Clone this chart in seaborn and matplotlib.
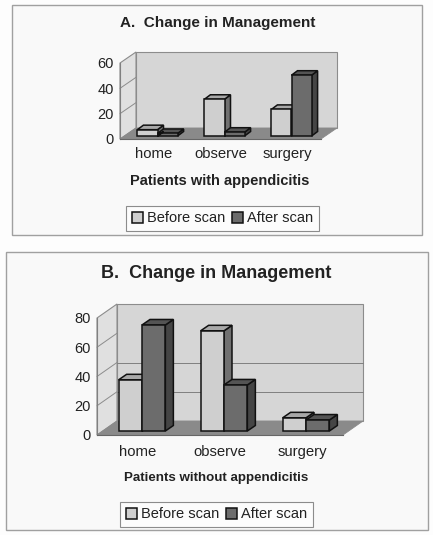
#!/usr/bin/env python3
"""Two Excel style pseudo-3D bar panels, before and after scan."""

import matplotlib.pyplot as plt
from matplotlib.patches import Polygon, Rectangle
import pandas as pd
import seaborn as sns

CATEGORIES = ["home", "observe", "surgery"]
SERIES = ["Before scan", "After scan"]

A_BEFORE = [5, 29, 21]
A_AFTER = [2, 3, 48]
A_TICKS = [0, 20, 40, 60]

B_BEFORE = [35, 68.5, 9]
B_AFTER = [72.5, 31.5, 7.5]
B_TICKS = [0, 20, 40, 60, 80]

W, H = 433, 535
FRONT_COLOR = {"Before scan": "#cfcfcf", "After scan": "#6c6c6c"}
TOP_COLOR = {"Before scan": "#a8a8a8", "After scan": "#545454"}
SIDE_COLOR = {"Before scan": "#707070", "After scan": "#454545"}
BAR_EDGE = "#111111"
BAR_LW = 1.1


def px_axes(fig, left, top, right, bottom):
    """Add axes placed with pixel coordinates, measured from the top left."""
    return fig.add_axes(
        [left / W, 1 - bottom / H, (right - left) / W, (bottom - top) / H]
    )


def draw_box(ax, ymax, ticks, grid, ddx, ddy):
    """Back wall, left wall and floor, all in the data units of ax."""
    x0, x1 = -0.5, 2.5
    line = dict(edgecolor="#8c8c8c", linewidth=0.8, clip_on=False)
    ax.add_patch(
        Polygon(
            [(x0 + ddx, ddy), (x1 + ddx, ddy), (x1 + ddx, ymax + ddy), (x0 + ddx, ymax + ddy)],
            facecolor="#d6d6d6",
            **line,
        )
    )
    ax.add_patch(
        Polygon(
            [(x0, 0), (x0 + ddx, ddy), (x0 + ddx, ymax + ddy), (x0, ymax)],
            facecolor="#e0e0e0",
            **line,
        )
    )
    ax.add_patch(
        Polygon(
            [(x0, 0), (x1, 0), (x1 + ddx, ddy), (x0 + ddx, ddy)],
            facecolor="#8a8a8a",
            edgecolor="#8a8a8a",
            linewidth=0.6,
            clip_on=False,
        )
    )
    for t in ticks[1:-1]:
        ax.plot([x0, x0 + ddx], [t, t + ddy], color="#8c8c8c", lw=0.7, clip_on=False)
    for t in grid:
        ax.plot([x0 + ddx, x1 + ddx], [t + ddy, t + ddy], color="#808080", lw=0.7, clip_on=False)


def draw_bars(ax, ddx, ddy):
    """Give every seaborn bar a top and a side, painted left to right."""
    bars = sorted(ax.patches, key=lambda p: p.get_x())
    for i, bar in enumerate(bars):
        series = SERIES[i % 2]
        x, w, h = bar.get_x(), bar.get_width(), bar.get_height()
        style = dict(edgecolor=BAR_EDGE, linewidth=BAR_LW, clip_on=False, zorder=3 + i)
        ax.add_patch(
            Polygon(
                [(x + w, 0), (x + w, h), (x + w + ddx, h + ddy), (x + w + ddx, ddy)],
                facecolor=SIDE_COLOR[series],
                **style,
            )
        )
        ax.add_patch(
            Polygon(
                [(x, h), (x + w, h), (x + w + ddx, h + ddy), (x + ddx, h + ddy)],
                facecolor=TOP_COLOR[series],
                **style,
            )
        )
        bar.set_zorder(3 + i + 0.5)
        bar.set_clip_on(False)


def draw_panel(fig, before, after, ticks, grid, cfg):
    frame = cfg["frame"]
    fig.add_artist(
        Rectangle(
            (frame[0] / W, 1 - frame[3] / H),
            (frame[2] - frame[0]) / W,
            (frame[3] - frame[1]) / H,
            transform=fig.transFigure,
            facecolor="#f9f9f9",
            edgecolor="#a0a0a0",
            linewidth=1.0,
            zorder=-1,
        )
    )

    left, top, right, bottom = cfg["front"]
    ymax = ticks[-1]
    ax = px_axes(fig, left, top, right, bottom)
    ax.set_xlim(-0.5, 2.5)
    ax.set_ylim(0, ymax)
    ax.patch.set_visible(False)
    unit_x = (right - left) / 3
    unit_y = (bottom - top) / ymax

    draw_box(ax, ymax, ticks, grid, cfg["depth"][0] / unit_x, cfg["depth"][1] / unit_y)

    sns.despine(ax=ax, top=True, right=True)
    ax.spines["left"].set_color("#808080")
    ax.spines["bottom"].set_color("#666666")
    ax.spines["left"].set_linewidth(0.8)
    ax.spines["bottom"].set_linewidth(0.8)
    ax.set_yticks(ticks)
    ax.set_xticks(range(3))
    ax.set_xticklabels(CATEGORIES, va="baseline")
    ax.set_xticks([-0.5, 0.5, 1.5, 2.5], minor=True)
    ax.tick_params(axis="y", length=3, width=0.7, color="#666666", pad=1.5, labelsize=10.5, labelcolor="#222222")
    ax.tick_params(axis="x", which="major", length=0, pad=cfg["cat_pad"], labelsize=10.7, labelcolor="#222222")
    ax.tick_params(axis="x", which="minor", length=3, width=0.7, color="#666666")

    # the bars stand a little behind the front edge of the floor
    off_x, off_y = cfg["bar_shift"]
    bar_ax = px_axes(fig, left + off_x, top - off_y, right + off_x, bottom - off_y)
    df = pd.DataFrame(
        {
            "category": CATEGORIES * 2,
            "series": [SERIES[0]] * 3 + [SERIES[1]] * 3,
            "value": list(before) + list(after),
        }
    )
    sns.barplot(
        data=df,
        x="category",
        y="value",
        hue="series",
        hue_order=SERIES,
        palette=FRONT_COLOR,
        saturation=1,
        width=cfg["bar_width"],
        gap=0,
        edgecolor=BAR_EDGE,
        linewidth=BAR_LW,
        ax=bar_ax,
    )
    bar_ax.set_xlim(-0.5, 2.5)
    bar_ax.set_ylim(0, ymax)
    draw_bars(bar_ax, cfg["bar_depth"][0] / unit_x, cfg["bar_depth"][1] / unit_y)

    handles, labels = bar_ax.get_legend_handles_labels()
    bar_ax.get_legend().remove()
    lx0, ly0, lx1, ly1 = cfg["legend"]
    leg = bar_ax.legend(
        handles,
        labels,
        loc="center",
        bbox_to_anchor=((lx0 + lx1) / 2 / W, 1 - (ly0 + ly1) / 2 / H),
        bbox_transform=fig.transFigure,
        ncol=2,
        fontsize=10.5,
        frameon=True,
        fancybox=False,
        framealpha=1,
        facecolor="#fcfcfc",
        edgecolor="#8c8c8c",
        handlelength=0.75,
        handleheight=0.75,
        handletextpad=0.3,
        columnspacing=0.45,
        borderpad=0.4,
        borderaxespad=0,
    )
    leg.get_frame().set_linewidth(0.8)
    leg.set_zorder(20)
    for txt in leg.get_texts():
        txt.set_color("#222222")
    bar_ax.axis("off")

    fig.text(
        cfg["title_xy"][0] / W,
        1 - cfg["title_xy"][1] / H,
        cfg["title"],
        fontsize=cfg["title_size"],
        fontweight="bold",
        ha="center",
        va="center",
        color="#222222",
    )
    fig.text(
        cfg["xlabel_xy"][0] / W,
        1 - cfg["xlabel_xy"][1] / H,
        cfg["xlabel"],
        fontsize=cfg["xlabel_size"],
        fontweight="bold",
        ha="center",
        va="center",
        color="#222222",
    )


def main():
    sns.set_style("white")
    plt.rcParams["font.family"] = ["Liberation Sans", "DejaVu Sans"]

    fig = plt.figure(figsize=(W / 100, H / 100), dpi=100, facecolor="#fdfdfd")

    draw_panel(
        fig,
        A_BEFORE,
        A_AFTER,
        A_TICKS,
        [],
        dict(
            frame=(12, 5, 422, 235),
            front=(120, 63, 321, 139),
            depth=(16, 11),
            bar_shift=(4, 3),
            bar_depth=(6, 4.5),
            bar_width=0.6,
            cat_pad=13.7,
            legend=(127, 207, 318, 230),
            title="A.  Change in Management",
            title_size=11,
            title_xy=(217.5, 23),
            xlabel="Patients with appendicitis",
            xlabel_size=10.5,
            xlabel_xy=(220, 181),
        ),
    )
    draw_panel(
        fig,
        B_BEFORE,
        B_AFTER,
        B_TICKS,
        [20, 40],
        dict(
            frame=(6, 252, 428, 530),
            front=(97, 318, 343, 435),
            depth=(20, 14),
            bar_shift=(4, 4),
            bar_depth=(8, 5.5),
            bar_width=0.57,
            cat_pad=15,
            legend=(120, 503, 313, 526),
            title="B.  Change in Management",
            title_size=13,
            title_xy=(216, 273),
            xlabel="Patients without appendicitis",
            xlabel_size=9.6,
            xlabel_xy=(216, 478),
        ),
    )

    fig.savefig("out.png", dpi=100, facecolor=fig.get_facecolor())


if __name__ == "__main__":
    main()
